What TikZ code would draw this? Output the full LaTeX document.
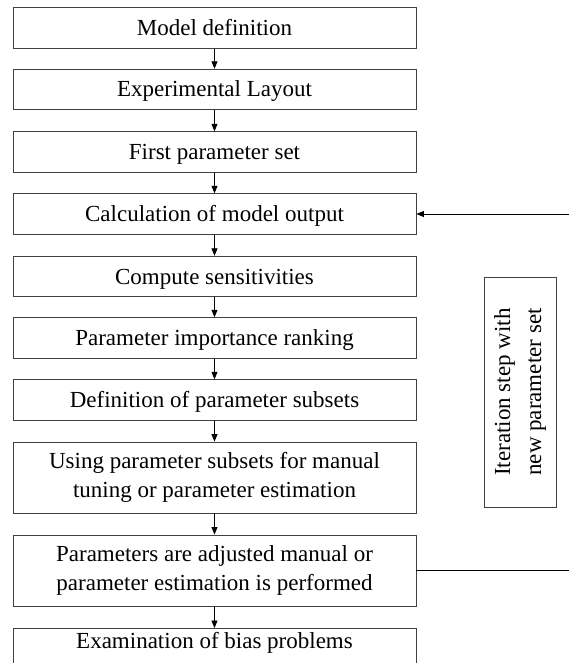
\documentclass[tikz,border=0pt]{standalone}
\usepackage{fontspec}
\setmainfont{Liberation Serif}
\usetikzlibrary{arrows.meta}
\begin{document}
\begin{tikzpicture}[x=1pt,y=-1pt,
  box/.style={draw=black!75, line width=0.9pt, minimum width=403pt, inner sep=0pt,
    font=\fontsize{23}{29}\selectfont, align=center},
  one/.style={box, minimum height=40.5pt, text height=15pt, text depth=0pt},
  two/.style={box, minimum height=71pt},
  arr/.style={line width=0.8pt, -{Triangle[length=7.5pt,width=6pt]}},
  plain/.style={line width=0.8pt}]
\clip (0,0) rectangle (569,663);
\node[one] (b1) at (214.5,28) {Model definition};
\node[one] (b2) at (214.5,89.5) {Experimental Layout};
\node[one] (b3) at (214.5,152) {First parameter set};
\node[one] (b4) at (214.5,214) {Calculation of model output};
\node[one] (b5) at (214.5,276.5) {Compute sensitivities};
\node[one] (b6) at (214.5,338) {Parameter importance ranking};
\node[one] (b7) at (214.5,400) {Definition of parameter subsets};
\node[two] (b8) at (214.5,477.5) {Using parameter subsets for manual\\tuning or parameter estimation};
\node[two] (b9) at (214.5,570.5) {Parameters are adjusted manual or\\parameter estimation is performed};
\node[box, anchor=north, text height=20pt, text depth=25pt] (b10) at (214.5,628) {Examination of bias problems};
\node[draw=black!75, line width=0.9pt, rotate=90, minimum width=230pt, minimum height=72pt,
  inner sep=0pt, align=center, font=\fontsize{23}{31}\selectfont] (it) at (520,392)
  {Iteration step with\\new parameter set};
\draw[arr] (b1) -- (b2);
\draw[arr] (b2) -- (b3);
\draw[arr] (b3) -- (b4);
\draw[arr] (b4) -- (b5);
\draw[arr] (b5) -- (b6);
\draw[arr] (b6) -- (b7);
\draw[arr] (b7) -- (b8);
\draw[arr] (b8) -- (b9);
\draw[arr] (b9) -- (b10);
\coordinate (fin) at (575,214);
\coordinate (fout) at (575,570.5);
\draw[arr] (fin) -- (b4.east);
\draw[plain] (b9.east) -- (fout);
\end{tikzpicture}
\end{document}
